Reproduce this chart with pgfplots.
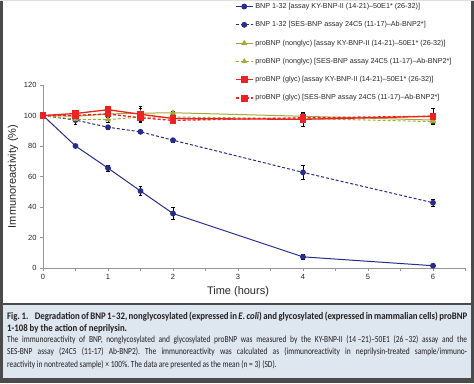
\documentclass[border=0pt]{standalone}
\usepackage{fontspec}
\setmainfont{Liberation Sans}
\newfontfamily\capfont[FakeStretch=0.8]{Carlito}
\newfontfamily\capfontb[FakeStretch=0.88]{Carlito}
\usepackage{pgfplots}
\pgfplotsset{compat=1.18}
\definecolor{navy}{RGB}{40,45,140}
\definecolor{olivec}{RGB}{165,168,58}
\definecolor{redc}{RGB}{235,35,35}
\definecolor{framec}{RGB}{75,75,75}
\definecolor{capbg}{RGB}{222,230,240}
\definecolor{captext}{RGB}{35,31,32}
\definecolor{axgray}{RGB}{150,150,150}
\definecolor{txt}{RGB}{40,40,40}
\pgfplotsset{
  eb/.style={error bars/.cd, y dir=both, y explicit,
    error bar style={black, line width=0.5pt, solid},
    error mark options={rotate=90, black, mark size=1.8pt, line width=0.5pt, solid}},
  dsh/.style={dash pattern=on 3pt off 2pt},
}
\frenchspacing
\begin{document}
\begin{tikzpicture}
\path[use as bounding box, fill=white] (0,0) rectangle (474pt,383pt);
\begin{axis}[
  at={(43pt,115pt)}, anchor=south west, scale only axis,
  width=422.5pt, height=183pt,
  xmin=0, xmax=6.5, ymin=0, ymax=120,
  axis lines*=left, axis line style={axgray, line width=0.6pt},
  xtick={0,...,6}, minor xtick={0.5,1.5,...,6.5}, ytick={0,20,...,120},
  tick align=outside, major tick length=3pt, minor tick length=3pt,
  tick style={axgray, line width=0.6pt},
  ticklabel style={font=\fontsize{7.5}{9}\selectfont, text=txt},
  /pgf/number format/assume math mode=true,
  xlabel={Time (hours)}, ylabel={Immunoreactivity (\%)},
  label style={font=\fontsize{11}{13}\selectfont, text=txt},
  x label style={at={(axis description cs:0.4615,0)}, anchor=center, yshift=-24pt},
  y label style={at={(axis description cs:-0.071,0.5)}, anchor=center, rotate=0},
  legend style={at={(axis description cs:0.447,1.47)}, anchor=north west,
    draw=none, fill=none, font=\fontsize{7.2}{8}\selectfont, text=txt,
    row sep=7.6pt, cells={anchor=west}},
  legend cell align=left,
]
\addplot[navy, line width=1pt, mark=*, mark size=2.4pt, mark options={solid}, eb]
coordinates {(0,100) +- (0,0) (0.5,80) +- (0,1) (1,65.5) +- (0,1.8) (1.5,50.5) +- (0,3)
 (2,35.7) +- (0,4) (4,7.3) +- (0,1.8) (6,1.5) +- (0,0.5)};
\addlegendentry{BNP 1-32 [assay KY-BNP-II (14-21)–50E1* (26-32)]}
\addplot[navy, line width=1pt, dsh, mark=*, mark size=2.4pt, mark options={solid}, eb]
coordinates {(0,100) +- (0,0) (0.5,97) +- (0,1) (1,92.3) +- (0,1) (1.5,89.3) +- (0,1)
 (2,83.8) +- (0,1.5) (4,62.7) +- (0,4.6) (6,42.8) +- (0,2)};
\addlegendentry{BNP 1-32 [SES-BNP assay 24C5 (11-17)–Ab-BNP2*]}
\addplot[olivec, line width=1pt, mark=triangle*, mark size=2.5pt, mark options={solid}, eb]
coordinates {(0,100) +- (0,0) (0.5,99.5) +- (0,1) (1,101) +- (0,1) (1.5,101.5) +- (0,3)
 (2,101.8) +- (0,1) (4,99.5) +- (0,2) (6,97) +- (0,2)};
\addlegendentry{proBNP (nonglyc) [assay KY-BNP-II (14-21)–50E1* (26-32)]}
\addplot[olivec, line width=1pt, dsh, mark=triangle*, mark size=2.5pt, mark options={solid}, eb]
coordinates {(0,100) +- (0,0) (0.5,97.5) +- (0,3.5) (1,97.3) +- (0,1.5) (1.5,99) +- (0,3)
 (2,99) +- (0,1) (4,98) +- (0,2) (6,96) +- (0,1.5)};
\addlegendentry{proBNP (nonglyc) [SES-BNP assay 24C5 (11-17)–Ab-BNP2*]}
\addplot[redc, line width=1.3pt, mark=square*, mark size=2.8pt, mark options={solid}, eb]
coordinates {(0,100) +- (0,0) (0.5,101.3) +- (0,1) (1,103.8) +- (0,1.5) (1.5,100.8) +- (0,5)
 (2,98) +- (0,1.5) (4,97.5) +- (0,4.5) (6,99.5) +- (0,2)};
\addlegendentry{proBNP (glyc) [assay KY-BNP-II (14-21)–50E1* (26-32)]}
\addplot[redc, line width=1.3pt, dsh, mark=square*, mark size=2.8pt, mark options={solid}, eb]
coordinates {(0,100) +- (0,0) (0.5,100) +- (0,1) (1,101) +- (0,1) (1.5,98.5) +- (0,2)
 (2,96.8) +- (0,1) (4,98.5) +- (0,2) (6,99.5) +- (0,5.2)};
\addlegendentry{proBNP (glyc) [SES-BNP assay 24C5 (11-17)–Ab-BNP2*]}
\end{axis}
\fill[capbg] (3pt,5pt) rectangle (471pt,78pt);
\fill[framec] (0,0) rectangle (474pt,5pt);
\fill[framec] (0,78pt) rectangle (474pt,80pt);
\fill[framec] (0,0) rectangle (3pt,383pt);
\fill[framec] (471pt,0) rectangle (474pt,383pt);
\draw[gray!25, line width=1pt] (0,382.5pt) -- (474pt,382.5pt);
\begin{scope}[every node/.style={anchor=base west, inner sep=0pt, text=captext}]
\node at (7pt,63pt) {\capfontb\bfseries\fontsize{10}{11}\selectfont\makebox[460pt][s]{Fig.\,1.\hspace{5pt} Degradation of BNP 1–32, nonglycosylated (expressed in \textit{E. coli}) and glycosylated (expressed in mammalian cells) proBNP}};
\node at (7pt,52pt) {\capfontb\bfseries\fontsize{10}{11}\selectfont 1-108 by the action of neprilysin.};
\node at (7pt,40pt) {\capfont\fontsize{9.3}{11}\selectfont\makebox[460pt][s]{The immunoreactivity of BNP, nonglycosylated and glycosylated proBNP was measured by the KY-BNP-II (14\,–21)–50E1 (26\,–32) assay and the}};
\node at (7pt,28pt) {\capfont\fontsize{9.3}{11}\selectfont\makebox[460pt][s]{SES-BNP assay (24C5 (11-17) Ab-BNP2). The immunoreactivity was calculated as (immunoreactivity in neprilysin-treated sample/immuno-}};
\node at (7pt,16pt) {\capfont\fontsize{9.3}{11}\selectfont reactivity in nontreated sample) × 100\%. The data are presented as the mean (n = 3) (SD).};
\end{scope}
\end{tikzpicture}
\end{document}
